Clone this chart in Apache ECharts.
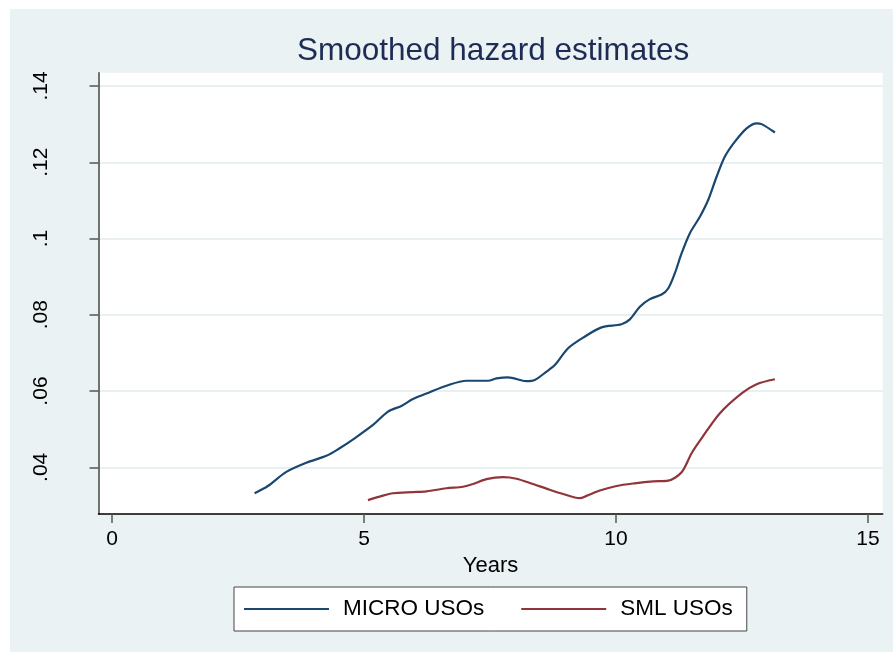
<!DOCTYPE html>
<html>
<head>
<meta charset="utf-8">
<title>Smoothed hazard estimates</title>
<script src="https://cdn.jsdelivr.net/npm/echarts@6/dist/echarts.min.js"></script>
<style>
    body { margin: 0; background: #ffffff; }
    #bg { position: absolute; left: 10px; top: 9px; width: 883px; height: 643px; background: #eaf2f3; }
    #main { position: absolute; left: 0; top: 0; width: 893px; height: 652px; }
</style>
</head>
<body>
<div id="bg"></div>
<div id="main"></div>
<script>
// 数据
var microYears  = [2.826, 3.090, 3.456, 3.853, 4.250, 4.514, 4.812, 5.176, 5.474, 5.740, 5.970, 6.302, 6.634, 7.031, 7.460, 7.627, 7.857, 8.222, 8.387, 8.620, 8.785, 9.049, 9.347, 9.712, 10.109, 10.274, 10.473, 10.671, 10.904, 11.035, 11.168, 11.301, 11.466, 11.664, 11.829, 11.996, 12.161, 12.359, 12.592, 12.790, 12.890, 13.154];
var microHazard = [0.0332, 0.0351, 0.0388, 0.0412, 0.0430, 0.0450, 0.0476, 0.0511, 0.0546, 0.0561, 0.0579, 0.0597, 0.0614, 0.0627, 0.0627, 0.0633, 0.0636, 0.0626, 0.0629, 0.0651, 0.0668, 0.0712, 0.0740, 0.0767, 0.0775, 0.0788, 0.0821, 0.0841, 0.0853, 0.0869, 0.0909, 0.0961, 0.1014, 0.1057, 0.1101, 0.1162, 0.1215, 0.1254, 0.1289, 0.1302, 0.1300, 0.1278];

var smlYears  = [5.076, 5.309, 5.573, 5.970, 6.236, 6.634, 6.963, 7.162, 7.428, 7.758, 8.024, 8.354, 8.620, 8.949, 9.281, 9.414, 9.678, 10.010, 10.373, 10.737, 11.035, 11.301, 11.500, 11.698, 12.062, 12.493, 12.790, 13.154];
var smlHazard = [0.0314, 0.0323, 0.0332, 0.0335, 0.0337, 0.0345, 0.0349, 0.0356, 0.0369, 0.0374, 0.0370, 0.0356, 0.0344, 0.0330, 0.0319, 0.0325, 0.0339, 0.0351, 0.0358, 0.0363, 0.0365, 0.0387, 0.0437, 0.0476, 0.0542, 0.0594, 0.0618, 0.0631];

var xTicks = [0, 5, 10, 15];
var yTicks = [0.04, 0.06, 0.08, 0.1, 0.12, 0.14];

var seriesNames = ['MICRO USOs', 'SML USOs'];

function pairs(xs, ys) {
    var out = [];
    for (var i = 0; i < xs.length; i++) {
        out.push([xs[i], ys[i]]);
    }
    return out;
}

var FONT = '"Liberation Sans", Arial, sans-serif';

var chart = echarts.init(document.getElementById('main'), null, { renderer: 'canvas' });

var option = {
    animation: false,
    textStyle: { fontFamily: FONT },
    title: {
        text: 'Smoothed hazard estimates',
        left: 297,
        top: 35,
        padding: 0,
        textStyle: {
            fontFamily: FONT,
            fontSize: 31.5,
            fontWeight: 'normal',
            color: '#1e2c55'
        }
    },
    legend: {
        data: [
            { name: seriesNames[0], icon: 'rect' },
            { name: seriesNames[1], icon: 'rect' }
        ],
        left: 234,
        top: 587,
        orient: 'horizontal',
        padding: [9, 14, 9, 10],
        backgroundColor: '#ffffff',
        borderColor: '#444444',
        borderWidth: 1,
        borderRadius: 0,
        itemWidth: 85,
        itemHeight: 2,
        itemGap: 37,
        textStyle: {
            fontFamily: FONT,
            fontSize: 22.5,
            lineHeight: 26,
            color: '#000000',
            padding: [0, 0, 0, 9]
        }
    },
    grid: {
        left: 98.5,
        top: 72.7,
        right: 10.3,
        bottom: 138,
        show: true,
        backgroundColor: '#ffffff',
        borderWidth: 0
    },
    xAxis: {
        type: 'value',
        min: -0.272,
        max: 15.293,
        name: 'Years',
        nameLocation: 'middle',
        nameGap: 35,
        nameTextStyle: { fontFamily: FONT, fontSize: 22, color: '#000000' },
        axisLine: { show: true, onZero: false, lineStyle: { color: '#000000', width: 1.5 } },
        axisTick: { show: true, length: 9, customValues: xTicks, lineStyle: { color: '#555555', width: 1.5 } },
        axisLabel: { customValues: xTicks, fontFamily: FONT, fontSize: 21, color: '#000000', margin: 15 },
        splitLine: { show: false }
    },
    yAxis: {
        type: 'value',
        min: 0.02775,
        max: 0.14349,
        axisLine: { show: true, onZero: false, lineStyle: { color: '#444444', width: 1.5 } },
        axisTick: { show: true, length: 9, customValues: yTicks, lineStyle: { color: '#555555', width: 1.5 } },
        axisLabel: {
            customValues: yTicks,
            rotate: 90,
            fontFamily: FONT,
            fontSize: 21,
            color: '#000000',
            margin: 47,
            formatter: function (v) {
                return String(+v.toFixed(2)).replace(/^0/, '');
            }
        },
        splitLine: { show: true, lineStyle: { color: '#e8f0f2', width: 2 } }
    },
    series: [
        {
            name: seriesNames[0],
            type: 'line',
            data: pairs(microYears, microHazard),
            showSymbol: false,
            symbol: 'none',
            smooth: 0.3,
            color: '#1a476f',
            lineStyle: { color: '#1a476f', width: 2.2 }
        },
        {
            name: seriesNames[1],
            type: 'line',
            data: pairs(smlYears, smlHazard),
            showSymbol: false,
            symbol: 'none',
            smooth: 0.3,
            color: '#90353b',
            lineStyle: { color: '#90353b', width: 2.2 }
        }
    ]
};

chart.setOption(option);
</script>
</body>
</html>
